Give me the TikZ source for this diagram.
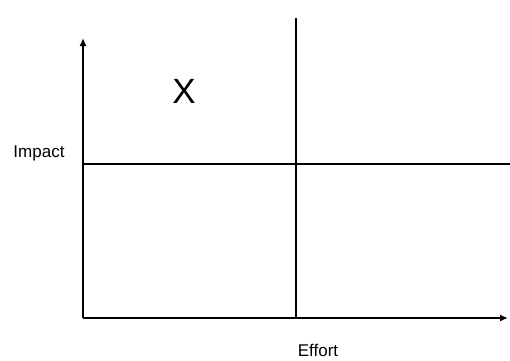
\documentclass[tikz,border=0pt]{standalone}
\usepackage{fontspec}
\setmainfont{Liberation Sans}
\usetikzlibrary{arrows.meta}
\begin{document}
\begin{tikzpicture}[x=1pt,y=1pt,
  axis/.style={line width=1.8pt,-{Latex[length=8pt,width=7pt]}},
  grid/.style={line width=1.1pt},
  lbl/.style={font=\fontsize{17}{20}\selectfont,anchor=base,inner sep=1pt}]
\useasboundingbox (0,0) rectangle (510,360);
\coordinate (o) at (83,42);
\coordinate (ytop) at (83,322);
\coordinate (xend) at (508,42);
\draw[axis] (o) -- (ytop);
\draw[axis] (o) -- (xend);
\coordinate (vt) at (296,342);
\coordinate (vb) at (296,42);
\coordinate (hl) at (83,196);
\coordinate (hr) at (510,196);
\draw[grid] (vb) -- (vt);
\draw[grid] (hl) -- (hr);
\node[lbl] (impact) at (39,203) {Impact};
\node[lbl] (effort) at (318,4) {Effort};
\node[font=\fontsize{35}{40}\selectfont,anchor=base] (x) at (184,257) {X};
\end{tikzpicture}
\end{document}
